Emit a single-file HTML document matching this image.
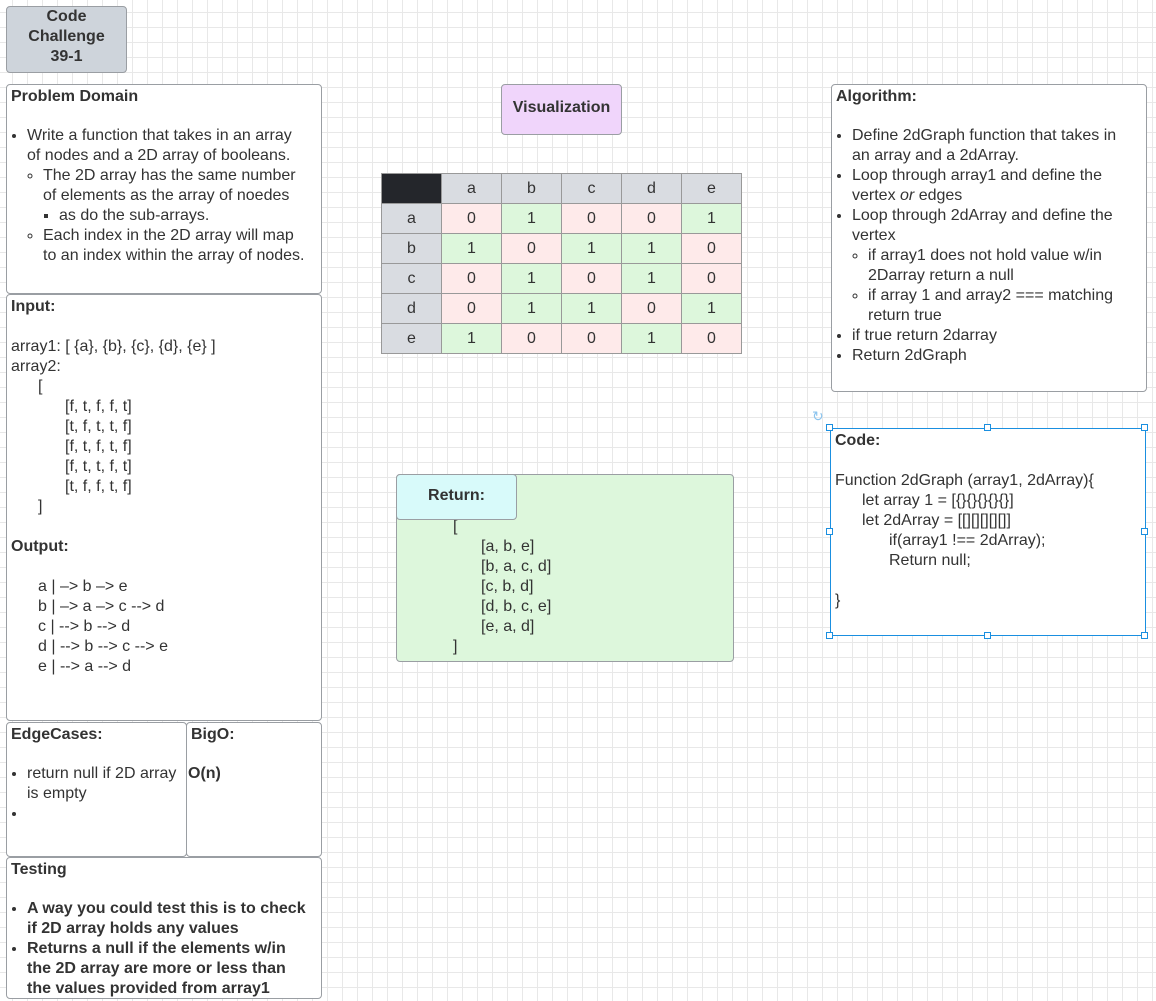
<!DOCTYPE html>
<html><head><style>
body{margin:0;width:1156px;height:1001px;overflow:hidden;font-family:"Liberation Sans",sans-serif;font-size:16px;color:#333;
background-color:#fff;
background-image:linear-gradient(#e8e8e8 1px,transparent 1px),linear-gradient(90deg,#e8e8e8 1px,transparent 1px);
background-size:15px 15px;background-position:-3px -3px;position:relative}
.b{position:absolute;background:#fff;border:1px solid #9a9ea3;border-radius:4px;box-sizing:border-box;line-height:20px}
.h{font-weight:bold;padding:2px 4px 3px}
ul{margin:0;padding-left:20px;padding-right:10px}
ul ul{list-style:circle;padding-left:16px;padding-right:0}
ul ul ul{list-style:square}
li{margin:0}
.gap{height:16px}
table{position:absolute;left:381px;top:173px;border-collapse:collapse}
td{width:59px;height:29px;border:1px solid #999;text-align:center;font-size:16px;padding:0}
.g{background:#ddf7dc}.r{background:#feeaea}.s{background:#d9dce1}
.sel{position:absolute;width:7px;height:7px;border:1px solid #1a8fe0;background:#fff;box-sizing:border-box}
</style></head><body>
<div class="b" style="left:6px;top:6px;width:121px;height:67px;background:#ced4db;font-weight:bold;text-align:center;font-size:16px;line-height:20px;padding-top:0">Code<br>Challenge<br>39-1</div>

<div class="b" style="left:6px;top:84px;width:316px;height:210px"><div class="h">Problem Domain</div><div class="gap"></div>
<ul style="padding-right:16px"><li>Write a function that takes in an array of nodes and a 2D array of booleans.
<ul><li>The 2D array has the same number of elements as the array of noedes<ul><li>as do the sub-arrays.</li></ul></li>
<li>Each index in the 2D array will map to an index within the array of nodes.</li></ul></li></ul></div>

<div class="b" style="left:6px;top:294px;width:316px;height:427px;padding:2px 4px"><b>Input:</b><br><br>
array1: [ {a}, {b}, {c}, {d}, {e} ]<br>array2:<br>
<div style="padding-left:27px">[</div>
<div style="padding-left:54px">[f, t, f, f, t]<br>[t, f, t, t, f]<br>[f, t, f, t, f]<br>[f, t, t, f, t]<br>[t, f, f, t, f]</div>
<div style="padding-left:27px">]</div><br>
<b>Output:</b><br><br>
<div style="padding-left:27px">a | –&gt; b –&gt; e<br>b | –&gt; a –&gt; c --&gt; d<br>c | --&gt; b --&gt; d<br>d | --&gt; b --&gt; c --&gt; e<br>e | --&gt; a --&gt; d</div></div>

<div class="b" style="left:6px;top:722px;width:181px;height:135px"><div class="h">EdgeCases:</div><div class="gap"></div>
<ul style="padding-right:0"><li>return null if 2D array is empty</li><li>&nbsp;</li></ul></div>
<div class="b" style="left:186px;top:722px;width:136px;height:135px"><div class="h">BigO:</div><div class="gap"></div><b style="padding-left:1px">O(n)</b></div>

<div class="b" style="left:6px;top:857px;width:316px;height:142px"><div class="h">Testing</div><div class="gap"></div>
<ul style="font-weight:bold;padding-right:14px"><li>A way you could test this is to check if 2D array holds any values</li><li>Returns a null if the elements w/in the 2D array are more or less than the values provided from array1</li></ul></div>

<div class="b" style="left:501px;top:84px;width:121px;height:51px;background:#f0d5fb;font-weight:bold;text-align:center;line-height:45px">Visualization</div>

<table>
<tr><td style="background:#24262b"></td><td class="s">a</td><td class="s">b</td><td class="s">c</td><td class="s">d</td><td class="s">e</td></tr>
<tr><td class="s">a</td><td class="r">0</td><td class="g">1</td><td class="r">0</td><td class="r">0</td><td class="g">1</td></tr>
<tr><td class="s">b</td><td class="g">1</td><td class="r">0</td><td class="g">1</td><td class="g">1</td><td class="r">0</td></tr>
<tr><td class="s">c</td><td class="r">0</td><td class="g">1</td><td class="r">0</td><td class="g">1</td><td class="r">0</td></tr>
<tr><td class="s">d</td><td class="r">0</td><td class="g">1</td><td class="g">1</td><td class="r">0</td><td class="g">1</td></tr>
<tr><td class="s">e</td><td class="g">1</td><td class="r">0</td><td class="r">0</td><td class="g">1</td><td class="r">0</td></tr>
</table>

<div class="b" style="left:831px;top:84px;width:316px;height:308px"><div class="h">Algorithm:</div><div class="gap"></div>
<ul style="padding-right:14px"><li>Define 2dGraph function that takes in an array and a 2dArray.</li><li>Loop through array1 and define the vertex <i>or</i> edges</li><li>Loop through 2dArray and define the vertex<ul><li>if array1 does not hold value w/in 2Darray return a null</li><li>if array 1 and array2 === matching return true</li></ul></li><li>if true return 2darray</li><li>Return 2dGraph</li></ul></div>

<div class="b" style="left:396px;top:474px;width:338px;height:188px;background:#ddf7dc">
<div style="position:absolute;left:56px;top:42px">[</div>
<div style="position:absolute;left:84px;top:62px">[a, b, e]<br>[b, a, c, d]<br>[c, b, d]<br>[d, b, c, e]<br>[e, a, d]</div>
<div style="position:absolute;left:56px;top:162px">]</div></div>
<div class="b" style="left:396px;top:474px;width:121px;height:46px;background:#d8fafa;font-weight:bold;text-align:center;line-height:42px">Return:</div>

<div class="b" style="left:830px;top:428px;width:316px;height:208px;border:1px solid #1a8fe0;border-radius:0;padding:2px 4px"><b>Code:</b><br><br>
Function 2dGraph (array1, 2dArray){<br>
<div style="padding-left:27px">let array 1 = [{}{}{}{}{}]<br>let 2dArray = [[][][][][]]</div>
<div style="padding-left:54px">if(array1 !== 2dArray);<br>Return null;</div><br>}</div>
<div class="sel" style="left:826px;top:424px"></div><div class="sel" style="left:984px;top:424px"></div><div class="sel" style="left:1141px;top:424px"></div>
<div class="sel" style="left:826px;top:528px"></div><div class="sel" style="left:1141px;top:528px"></div>
<div class="sel" style="left:826px;top:632px"></div><div class="sel" style="left:984px;top:632px"></div><div class="sel" style="left:1141px;top:632px"></div>
<div style="position:absolute;left:812px;top:408px;color:#8cc4ee;font-size:14px">↻</div>
</body></html>
